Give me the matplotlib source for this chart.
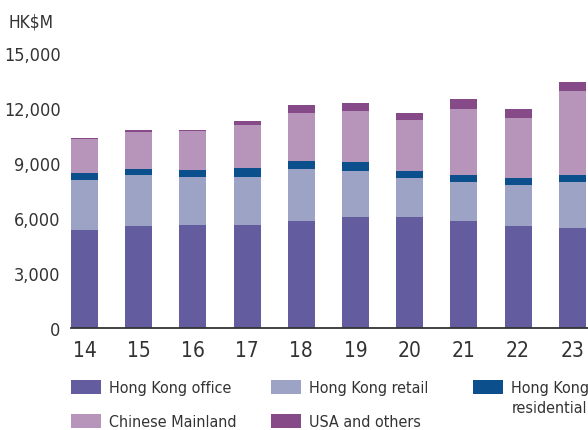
import matplotlib
matplotlib.use("Agg")
import matplotlib.pyplot as plt
import numpy as np

years = ['14', '15', '16', '17', '18', '19', '20', '21', '22', '23']
hk_office = [5370, 5590, 5640, 5640, 5860, 6080, 6080, 5810, 5590, 5480]
hk_retail = [2680, 2730, 2620, 2620, 2790, 2460, 2080, 2130, 2190, 2460]
hk_residential = [380, 380, 380, 490, 440, 490, 380, 380, 380, 380]
mainland = [1870, 2010, 2080, 2300, 2620, 2790, 2790, 3610, 3280, 4590]
usa_others = [80, 70, 60, 220, 440, 440, 380, 550, 490, 490]
y_ticks = [0, 3000, 6000, 9000, 12000, 15000]

series = [
    ("Hong Kong office", hk_office, "#635C9F"),
    ("Hong Kong retail", hk_retail, "#9DA3C4"),
    ("Hong Kong residential", hk_residential, "#0B508C"),
    ("Chinese Mainland", mainland, "#B794BA"),
    ("USA and others", usa_others, "#874A88"),
]

TXT = "#333333"
plt.rcParams['font.family'] = ['DejaVu Sans']
plt.rcParams['font.stretch'] = 'condensed'

fig = plt.figure(figsize=(5.88, 4.31), dpi=100)
ax = fig.add_axes([71 / 588, 102 / 431, 517 / 588, (329 - 54) / 431])

x = np.arange(len(years))
bottom = np.zeros(len(years))
containers = []
for name, vals, col in series:
    c = ax.bar(x, vals, width=0.5, bottom=bottom, color=col, linewidth=0, label=name)
    containers.append(c)
    bottom += np.array(vals)

ax.set_xlim(-0.25, 9.29)
ax.set_ylim(0, 15000)
ax.set_yticks(y_ticks)
ax.set_yticklabels([f"{v:,}" for v in y_ticks])
ax.set_xticks(x)
ax.set_xticklabels(years)
ax.tick_params(axis='y', length=0, pad=7.5, labelsize=13, labelcolor=TXT)
ax.tick_params(axis='x', length=0, pad=9, labelsize=15, labelcolor=TXT)
for s in ['top', 'right', 'left']:
    ax.spines[s].set_visible(False)
ax.spines['bottom'].set_color('#333333')
ax.spines['bottom'].set_linewidth(1.3)

fig.text(8 / 588, 1 - 23 / 431, "HK$M", ha='left', va='center', fontsize=12.5, color=TXT)

leg_kw = dict(loc='upper left', frameon=False, fontsize=11.5, handlelength=1.9,
              handleheight=0.97, handletextpad=0.5, borderpad=0, borderaxespad=0,
              labelspacing=1.15, labelcolor=TXT)
top_y = 1 - 381 / 431
fig.legend([containers[0], containers[3]], ["Hong Kong office", "Chinese Mainland"],
           bbox_to_anchor=(71 / 588, top_y), **leg_kw)
fig.legend([containers[1], containers[4]], ["Hong Kong retail", "USA and others"],
           bbox_to_anchor=(271 / 588, top_y), **leg_kw)
fig.legend([containers[2]], ["Hong Kong"],
           bbox_to_anchor=(473 / 588, top_y), **leg_kw)
fig.text(512 / 588, 1 - 409 / 431, "residential", ha='left', va='center', fontsize=11.5, color=TXT)

fig.savefig("out.png", dpi=100)
